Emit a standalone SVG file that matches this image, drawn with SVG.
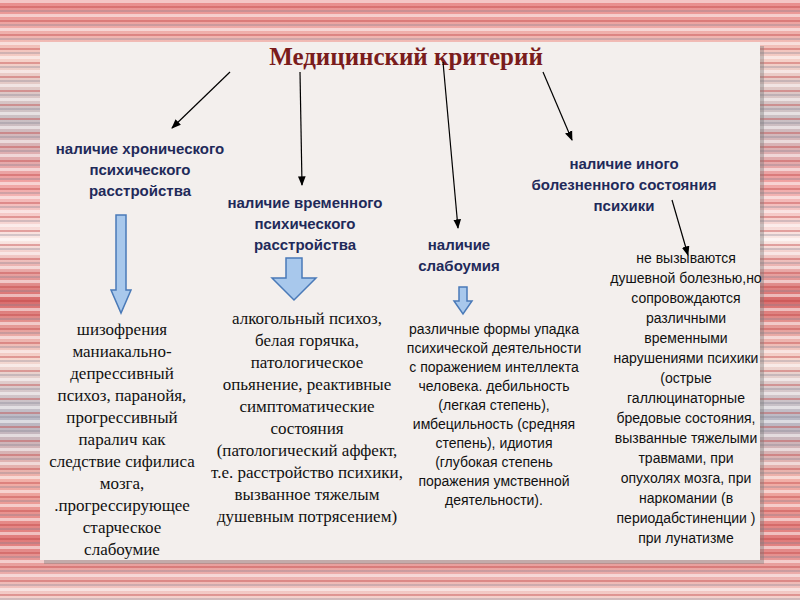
<svg xmlns="http://www.w3.org/2000/svg" width="800" height="600" viewBox="0 0 800 600">
<defs>
<linearGradient id="bg" x1="0" y1="0" x2="0" y2="1">
<stop offset="0" stop-color="#e88a8a"/><stop offset="0.1" stop-color="#f5d0c8"/><stop offset="0.2" stop-color="#c9c0c4"/><stop offset="0.3" stop-color="#f0a0a0"/><stop offset="0.4" stop-color="#faeae6"/><stop offset="0.5" stop-color="#d86a6a"/><stop offset="0.6" stop-color="#f6d8d0"/><stop offset="0.7" stop-color="#b8b8c4"/><stop offset="0.8" stop-color="#f2b0a8"/><stop offset="0.9" stop-color="#e07a7a"/><stop offset="1" stop-color="#f5d5d0"/>
</linearGradient>
<pattern id="st" width="800" height="14" patternUnits="userSpaceOnUse">
<rect width="800" height="3" y="0" fill="#ffffff" opacity="0.5"/><rect width="800" height="2" y="6" fill="#c04040" opacity="0.4"/><rect width="800" height="2" y="10" fill="#808090" opacity="0.3"/>
</pattern>
<marker id="ah" viewBox="0 0 10 10" refX="9" refY="5" markerWidth="8" markerHeight="8" orient="auto"><path d="M0,1 L10,5 L0,9 Z" fill="#000"/></marker>
<style>
.h{font-family:"Liberation Sans",Arial,sans-serif;font-weight:bold;font-size:15px;fill:#1f2a5a;text-anchor:middle}
.s{font-family:"Liberation Serif","Times New Roman",serif;font-size:17px;fill:#111;text-anchor:middle}
.a{font-family:"Liberation Sans",Arial,sans-serif;font-size:14px;fill:#111;text-anchor:middle}
.ba{fill:#a8c8ec;stroke:#4a7ab8;stroke-width:1.5}
</style>
</defs>
<rect width="800" height="600" fill="url(#bg)"/>
<rect width="800" height="600" fill="url(#st)"/>
<rect x="44" y="46" width="720" height="518" fill="#777" opacity="0.4"/>
<rect x="40" y="42" width="720" height="518" fill="#f3efed"/>
<text x="406" y="65" font-family="Liberation Serif,serif" font-weight="bold" font-size="25" fill="#7a1c1c" text-anchor="middle">Медицинский критерий</text>
<g id="connectors" stroke="#000" stroke-width="1.2" fill="none" marker-end="url(#ah)">
<line x1="230" y1="72" x2="172" y2="128"/>
<line x1="300" y1="72" x2="302" y2="185"/>
<line x1="443" y1="62" x2="458" y2="228"/>
<line x1="543" y1="72" x2="572" y2="140"/>
<line x1="672" y1="200" x2="688" y2="255"/>
<path class="ba" marker-end="none" d="M116,215 H126 V290 H131 L121,313 L111,290 H116 Z"/>
<path class="ba" marker-end="none" d="M286,258 H302 V278 H316 L294,300 L272,278 H286 Z"/>
<path class="ba" marker-end="none" d="M459,287 H467 V301 H472 L463,314 L454,301 H459 Z"/>
</g>
<g id="n1">
<text class="h" x="140" y="154">наличие хронического</text>
<text class="h" x="140" y="175">психического</text>
<text class="h" x="140" y="196">расстройства</text>
<text class="s" x="122" y="335">шизофрения</text>
<text class="s" x="122" y="357">маниакально-</text>
<text class="s" x="122" y="379">депрессивный</text>
<text class="s" x="122" y="401">психоз, паранойя,</text>
<text class="s" x="122" y="423">прогрессивный</text>
<text class="s" x="122" y="445">паралич как</text>
<text class="s" x="122" y="467">следствие сифилиса</text>
<text class="s" x="122" y="489">мозга,</text>
<text class="s" x="122" y="511">.прогрессирующее</text>
<text class="s" x="122" y="533">старческое</text>
<text class="s" x="122" y="555">слабоумие</text>
</g>
<g id="n2">
<text class="h" x="305" y="208">наличие временного</text>
<text class="h" x="305" y="229">психического</text>
<text class="h" x="305" y="250">расстройства</text>
<text class="s" x="307" y="324">алкогольный психоз,</text>
<text class="s" x="307" y="346">белая горячка,</text>
<text class="s" x="307" y="368">патологическое</text>
<text class="s" x="307" y="390">опьянение, реактивные</text>
<text class="s" x="307" y="412">симптоматические</text>
<text class="s" x="307" y="434">состояния</text>
<text class="s" x="307" y="456">(патологический аффект,</text>
<text class="s" x="307" y="478">т.е. расстройство психики,</text>
<text class="s" x="307" y="500">вызванное тяжелым</text>
<text class="s" x="307" y="522">душевным потрясением)</text>
</g>
<g id="n3">
<text class="h" x="459" y="250">наличие</text>
<text class="h" x="459" y="271">слабоумия</text>
<text class="a" x="494" y="334">различные формы упадка</text>
<text class="a" x="494" y="353">психической деятельности</text>
<text class="a" x="494" y="372">с поражением интеллекта</text>
<text class="a" x="494" y="391">человека.  дебильность</text>
<text class="a" x="494" y="410">(легкая степень),</text>
<text class="a" x="494" y="429">имбецильность (средняя</text>
<text class="a" x="494" y="448">степень), идиотия</text>
<text class="a" x="494" y="467">(глубокая степень</text>
<text class="a" x="494" y="486">поражения умственной</text>
<text class="a" x="494" y="505">деятельности).</text>
</g>
<g id="n4">
<text class="h" x="624" y="169">наличие иного</text>
<text class="h" x="624" y="190">болезненного состояния</text>
<text class="h" x="624" y="211">психики</text>
<text class="a" x="686" y="263">не вызываются</text>
<text class="a" x="686" y="283">душевной болезнью,но</text>
<text class="a" x="686" y="303">сопровождаются</text>
<text class="a" x="686" y="323">различными</text>
<text class="a" x="686" y="343">временными</text>
<text class="a" x="686" y="363">нарушениями психики</text>
<text class="a" x="686" y="383">(острые</text>
<text class="a" x="686" y="403">галлюцинаторные</text>
<text class="a" x="686" y="423">бредовые состояния,</text>
<text class="a" x="686" y="443">вызванные  тяжелыми</text>
<text class="a" x="686" y="463">травмами, при</text>
<text class="a" x="686" y="483">опухолях мозга, при</text>
<text class="a" x="686" y="503">наркомании (в</text>
<text class="a" x="686" y="523">периодабстиненции )</text>
<text class="a" x="686" y="543">при лунатизме</text>
</g>
</svg>
